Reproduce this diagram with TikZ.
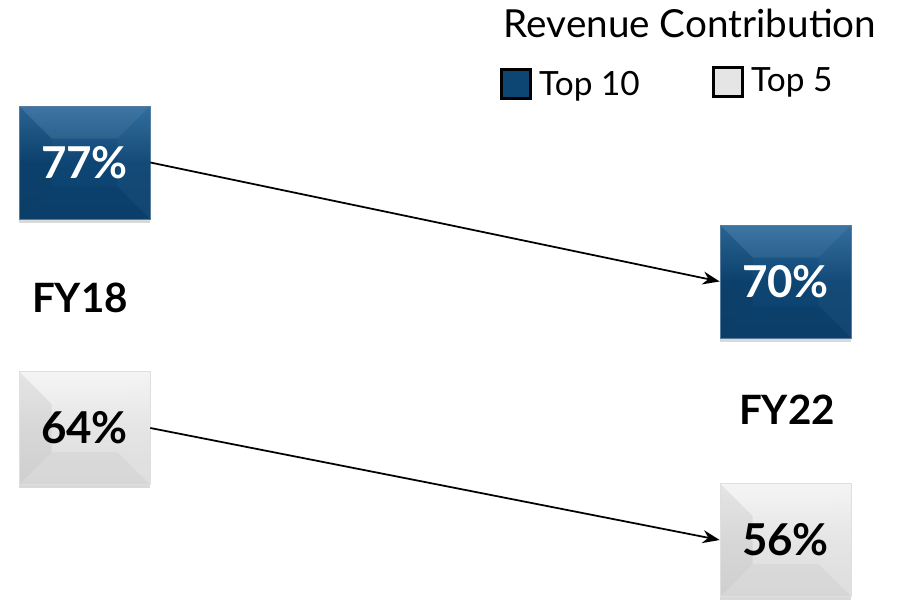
\documentclass[tikz,border=0pt]{standalone}
\usepackage{fontspec}
\setmainfont{Lato}
\usetikzlibrary{arrows.meta, calc, shadows}
\definecolor{navy}{HTML}{0D4573}
\definecolor{navylight}{HTML}{2D6A9C}
\definecolor{paper}{HTML}{E5E5E5}
\definecolor{paperlight}{HTML}{F4F4F4}
\newcommand{\bevelfaces}{%
  \coordinate (bnw) at (path picture bounding box.north west);
  \coordinate (bne) at (path picture bounding box.north east);
  \coordinate (bsw) at (path picture bounding box.south west);
  \coordinate (bse) at (path picture bounding box.south east);
  \coordinate (inw) at ([shift={(0.65cm,-0.65cm)}]bnw);
  \coordinate (ine) at ([shift={(-0.65cm,-0.65cm)}]bne);
  \coordinate (isw) at ([shift={(0.65cm,0.65cm)}]bsw);
  \coordinate (ise) at ([shift={(-0.65cm,0.65cm)}]bse);
  \fill[white, opacity=0.08] (bnw) -- (bne) -- (ine) -- (inw) -- cycle;
  \fill[black, opacity=0.06] (bnw) -- (inw) -- (isw) -- (bsw) -- cycle;
  \fill[white, opacity=0.03] (bne) -- (ine) -- (ise) -- (bse) -- cycle;
  \fill[black, opacity=0.03] (bsw) -- (isw) -- (ise) -- (bse) -- cycle;}
\tikzset{
  share/.style={minimum width=2.62cm, minimum height=2.26cm, font=\bfseries\fontsize{25}{27}\selectfont,
    drop shadow={opacity=0.3, shadow xshift=0pt, shadow yshift=-0.08cm},
    path picture={\bevelfaces}},
  top10/.style={share, draw=navy!70!white, top color=navylight, bottom color=navy!95!black, middle color=navy, text=white},
  top5/.style={share, draw=gray!25, top color=paperlight, bottom color=paper!92!gray, middle color=paper, text=black},
  year/.style={font=\bfseries\fontsize{23}{25}\selectfont},
  key/.style={draw=black, line width=1.2pt, minimum size=0.58cm, inner sep=0pt},
  keytext/.style={anchor=west, font=\fontsize{19}{21}\selectfont}
}
\begin{document}
\begin{tikzpicture}[x=0.02cm, y=-0.02cm]
\useasboundingbox (0,0) rectangle (902,604);
% legend
\node[font=\fontsize{22}{24}\selectfont] (title) at (690,23) {Revenue Contribution};
\node[key, fill=navy]  (keyA) at (516,84) {};
\node[keytext]         (keyAtext) at (533,86) {Top 10};
\node[key, fill=paper] (keyB) at (728,82) {};
\node[keytext]         (keyBtext) at (745,82) {Top 5};
% boxes
\node[top10] (t18) at (84.5,162.5) {77\%};
\node[top5]  (f18) at (84.5,428)   {64\%};
\node[top10] (t22) at (785.5,281.5) {70\%};
\node[top5]  (f22) at (785.5,540)   {56\%};
\node[year] (fy18) at (80,298) {FY18};
\node[year] (fy22) at (787,410) {FY22};
% connectors
\path[-{Stealth[length=0.34cm, width=0.26cm]}, line width=1pt]
(t18.east) edge (t22.west)
(f18.east) edge (f22.west);
\end{tikzpicture}
\end{document}
